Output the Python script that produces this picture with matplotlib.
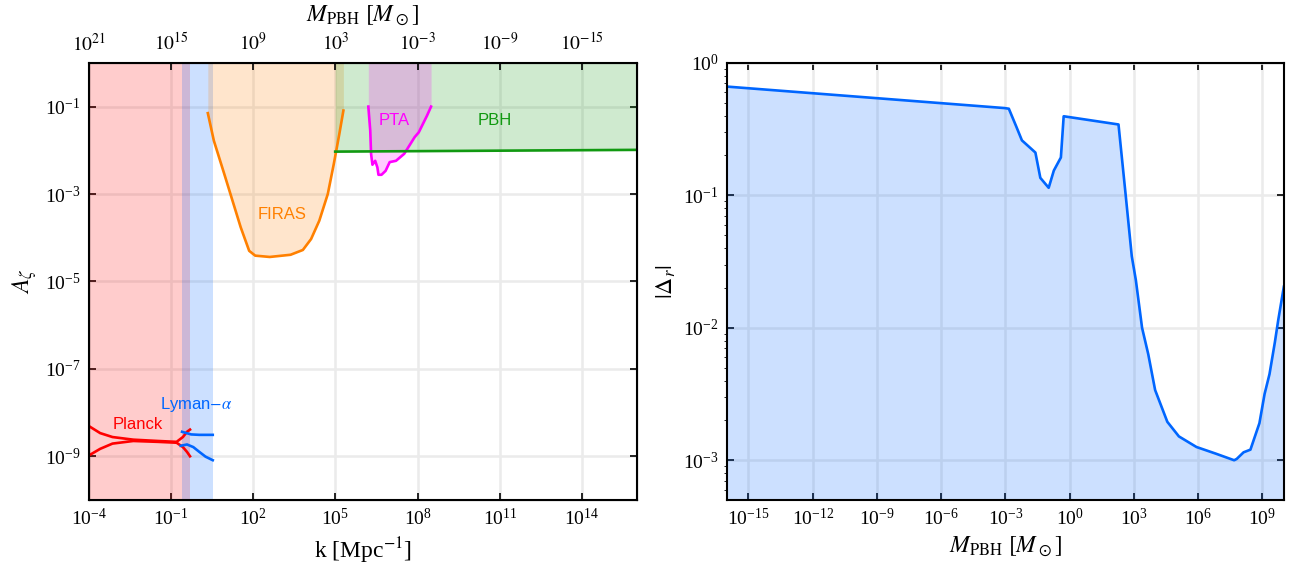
import numpy as np
from matplotlib import pyplot as plt
from matplotlib.ticker import FixedLocator, NullLocator

plt.rcParams['font.family'] = 'serif'
plt.rcParams['font.serif'] = ['Liberation Serif', 'DejaVu Serif']
plt.rcParams['mathtext.fontset'] = 'stix'

# ---- left panel data (log10 values) ----
planck_band = [1e-4, 10**-0.31]
lyman_band = [10**-0.60, 10**0.52]

planck_up_lk = [-4.0, -3.59, -3.14, -2.38, -1.48, -0.80, -0.57, -0.42, -0.31]
planck_up_la = [-8.31, -8.47, -8.56, -8.62, -8.65, -8.67, -8.56, -8.44, -8.39]
planck_lo_lk = [-4.0, -3.59, -3.14, -2.38, -1.48, -0.80, -0.57, -0.42, -0.31]
planck_lo_la = [-8.98, -8.83, -8.71, -8.65, -8.67, -8.69, -8.79, -8.90, -9.0]

lyman_up_lk = [-0.60, -0.27, 0.03, 0.52]
lyman_up_la = [-8.44, -8.50, -8.51, -8.51]
lyman_lo_lk = [-0.65, -0.42, -0.19, 0.03, 0.26, 0.52]
lyman_lo_la = [-8.76, -8.73, -8.79, -8.90, -9.01, -9.09]

firas_lk = [0.34, 0.56, 0.94, 1.24, 1.54, 1.85, 2.07, 2.6, 3.36, 3.81, 4.11,
            4.41, 4.72, 4.94, 5.14, 5.29]
firas_la = [-1.15, -1.78, -2.54, -3.15, -3.76, -4.30, -4.41, -4.44, -4.39,
            -4.28, -4.03, -3.61, -3.0, -2.31, -1.63, -1.09]

pta_lk = [6.2, 6.27, 6.30, 6.35, 6.45, 6.53, 6.57, 6.68, 6.83, 6.98, 7.21,
          7.51, 7.74, 7.89, 8.04, 8.19, 8.34, 8.49]
pta_la = [-1.0, -1.55, -2.08, -2.33, -2.24, -2.39, -2.56, -2.56, -2.47, -2.27,
          -2.24, -2.08, -1.85, -1.70, -1.59, -1.40, -1.21, -1.0]

pbh_lk = [4.99, 16.0]
pbh_la = [-2.03, -1.99]

# top axis: M_PBH = 1e13 / k^2
mass_exps = [21, 15, 9, 3, -3, -9, -15]

# ---- right panel data ----
dr_lm = [-16.0, -3.05, -2.84, -2.5, -2.23, -1.6, -1.37, -0.98, -0.74, -0.41,
         -0.28, -0.07, 2.28, 2.61, 2.90, 3.09, 3.38, 3.67, 3.99, 4.56, 5.1,
         5.92, 6.82, 7.68, 7.8, 8.12, 8.44, 8.86, 9.1, 9.33, 9.58, 9.74, 10.0]
dr_ly = [-0.179, -0.341, -0.346, -0.478, -0.585, -0.677, -0.868, -0.943,
         -0.813, -0.714, -0.403, -0.408, -0.465, -0.99, -1.46, -1.64, -2.0,
         -2.2, -2.47, -2.71, -2.82, -2.9, -2.95, -3.0, -2.99, -2.94, -2.92,
         -2.72, -2.5, -2.35, -2.11, -1.94, -1.69]

red = '#ff0000'
blue = '#0066ff'
orange = '#ff8000'
green = '#119911'
magenta = '#ff00ff'
gridc = '#ebebeb'
lw = 1.9


def p10(v):
    return 10 ** np.array(v)


fig = plt.figure(figsize=(12.89, 5.64), dpi=100)
ax = fig.add_axes([0.069, 0.1135, 0.425, 0.775])
ax2 = fig.add_axes([0.564, 0.1135, 0.432, 0.775])

for a in (ax, ax2):
    a.set_axisbelow(True)
    a.grid(True, color=gridc, lw=1.8)
    for s in a.spines.values():
        s.set_linewidth(1.5)
    a.tick_params(which='major', direction='in', length=5, width=1.2,
                  labelsize=14, top=True, right=True, pad=6)
    a.xaxis.set_minor_locator(NullLocator())
    a.yaxis.set_minor_locator(NullLocator())

# left panel
ax.set_xscale('log')
ax.set_yscale('log')
ax.set_xlim(1e-4, 1e16)
ax.set_ylim(1e-10, 1)

ax.axvspan(planck_band[0], planck_band[1], color=red, alpha=0.2, lw=0)
ax.axvspan(lyman_band[0], lyman_band[1], color=blue, alpha=0.2, lw=0)
ax.fill_between(p10(firas_lk), p10(firas_la), 1, color=orange, alpha=0.2, lw=0)
ax.fill_between(p10(pbh_lk), p10(pbh_la), 1, color=green, alpha=0.2, lw=0)
ax.fill_between(p10(pta_lk), p10(pta_la), 1, color=magenta, alpha=0.2, lw=0)

ax.plot(p10(planck_up_lk), p10(planck_up_la), color=red, lw=lw)
ax.plot(p10(planck_lo_lk), p10(planck_lo_la), color=red, lw=lw)
ax.plot(p10(lyman_up_lk), p10(lyman_up_la), color=blue, lw=lw)
ax.plot(p10(lyman_lo_lk), p10(lyman_lo_la), color=blue, lw=lw)
ax.plot(p10(firas_lk), p10(firas_la), color=orange, lw=lw)
ax.plot(p10(pta_lk), p10(pta_la), color=magenta, lw=lw)
ax.plot(p10(pbh_lk), p10(pbh_la), color=green, lw=lw)

sans = ['Liberation Sans', 'DejaVu Sans']
ax.text(10**-2.2, 10**-8.27, 'Planck', color=red, fontsize=12, family=sans,
        ha='center', va='center')
ax.text(10**-0.1, 10**-7.81, r'Lyman$-\alpha$', color=blue, fontsize=12,
        family=sans, ha='center', va='center')
ax.text(10**3.05, 10**-3.47, 'FIRAS', color=orange, fontsize=12, family=sans,
        ha='center', va='center')
ax.text(10**7.13, 10**-1.31, 'PTA', color=magenta, fontsize=12, family=sans,
        ha='center', va='center')
ax.text(10**10.83, 10**-1.31, 'PBH', color=green, fontsize=12, family=sans,
        ha='center', va='center')

ax.xaxis.set_major_locator(FixedLocator([10.0**e for e in range(-4, 16, 3)]))
ax.yaxis.set_major_locator(FixedLocator([10.0**e for e in range(-9, 0, 2)]))
ax.set_xlabel(r'k [Mpc$^{-1}$]', fontsize=17)
ax.set_ylabel(r'$A_\zeta$', fontsize=17)

# top axis in M_PBH
axt = ax.twiny()
axt.set_xscale('log')
axt.set_xlim(ax.get_xlim())
axt.xaxis.set_major_locator(FixedLocator([np.sqrt(1e13 / 10.0**e) for e in mass_exps]))
axt.xaxis.set_minor_locator(NullLocator())
axt.set_xticklabels([r'$10^{%d}$' % e for e in mass_exps])
axt.tick_params(direction='in', length=5, width=1.2, labelsize=14, pad=6)
axt.set_xlabel(r'$M_{\rm PBH}\ [M_\odot]$', fontsize=17, labelpad=8)

# right panel
ax2.set_xscale('log')
ax2.set_yscale('log')
ax2.set_xlim(1e-16, 1e10)
ax2.set_ylim(10**-3.3, 1)
ax2.fill_between(p10(dr_lm), p10(dr_ly), 1e-4, color=blue, alpha=0.2, lw=0)
ax2.plot(p10(dr_lm), p10(dr_ly), color=blue, lw=lw)
ax2.xaxis.set_major_locator(FixedLocator([10.0**e for e in range(-15, 10, 3)]))
ax2.yaxis.set_major_locator(FixedLocator([10.0**e for e in range(-3, 1)]))
ax2.set_xlabel(r'$M_{\rm PBH}\ [M_\odot]$', fontsize=17)
ax2.set_ylabel(r'$|\Delta_r|$', fontsize=17)

fig.savefig('out.png', dpi=100)
